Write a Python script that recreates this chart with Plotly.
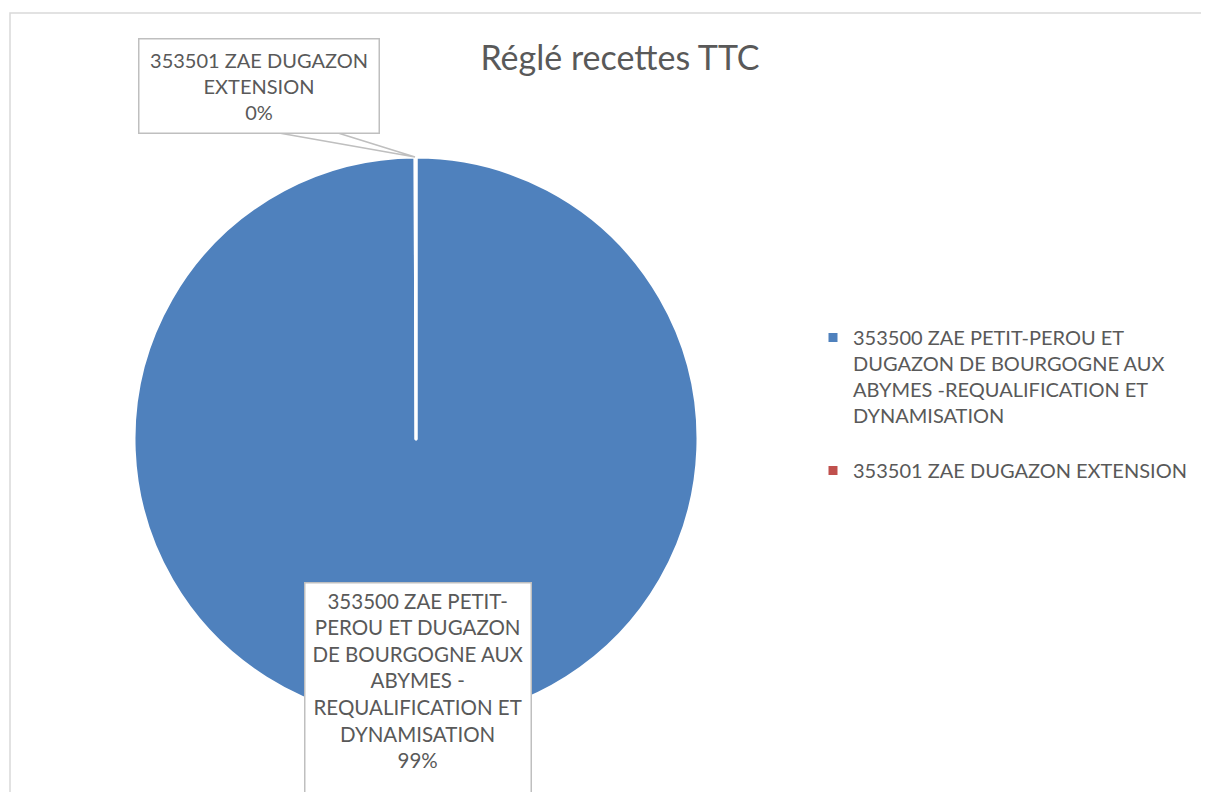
import plotly.graph_objects as go

# page body has an 8px margin: the figure is drawn at window offset (8, 8)
OFF = 8
W, H = 1209 - OFF, 792 - OFF

title_text = "Réglé recettes TTC"
categories = [
    "353500 ZAE PETIT-PEROU ET DUGAZON DE BOURGOGNE AUX ABYMES -REQUALIFICATION ET DYNAMISATION",
    "353501 ZAE DUGAZON EXTENSION",
]
legend_names = [
    "353500 ZAE PETIT-PEROU ET<br>DUGAZON DE BOURGOGNE AUX<br>ABYMES -REQUALIFICATION ET<br>DYNAMISATION<br> ",
    "353501 ZAE DUGAZON EXTENSION",
]
values = [99.95, 0.05]
pct_labels = ["99%", "0%"]
slice_label_lines = [
    ["353500 ZAE PETIT-", "PEROU ET DUGAZON", "DE BOURGOGNE AUX", "ABYMES -", "REQUALIFICATION ET", "DYNAMISATION"],
    ["353501 ZAE DUGAZON", "EXTENSION"],
]
colors = ["#4F81BD", "#C0504D"]

TEXT = "#595959"
FONT = "Lato"


def px(x):
    return (x - OFF) / W


def py(y):
    return (H - (y - OFF)) / H


cx, cy, r = 416, 439, 282

fig = go.Figure(
    go.Pie(
        labels=legend_names,
        values=values,
        customdata=categories,
        sort=False,
        direction="clockwise",
        rotation=0,
        textinfo="none",
        marker=dict(colors=colors, line=dict(color="white", width=3)),
        domain=dict(x=[px(cx - r), px(cx + r)], y=[py(cy + r), py(cy - r)]),
        hovertemplate="%{customdata}<br>%{percent}<extra></extra>",
    )
)

# frame
fig.add_shape(type="rect", xref="paper", yref="paper",
              x0=px(10), y0=-0.05, x1=1.05, y1=py(13),
              line=dict(color="#D9D9D9", width=1.5), fillcolor="rgba(0,0,0,0)", layer="below")

# callout wedge for small slice
fig.add_shape(type="path", xref="paper", yref="paper",
              path=f"M {px(279)},{py(133)} L {px(415)},{py(157)} L {px(338)},{py(133)}",
              line=dict(color="#BFBFBF", width=1.5), fillcolor="white")

# data label boxes
fig.add_annotation(
    xref="paper", yref="paper", x=px(258.5), y=py(38), xanchor="center", yanchor="top",
    text="<br>".join(slice_label_lines[1] + [pct_labels[1]]),
    showarrow=False, align="center", width=235, height=89, borderpad=2,
    bgcolor="white", bordercolor="#BFBFBF", borderwidth=1.5,
    font=dict(family=FONT, size=20, color=TEXT),
)
fig.add_annotation(
    xref="paper", yref="paper", x=px(417.5), y=py(582), xanchor="center", yanchor="top",
    text="<br>".join(slice_label_lines[0] + [pct_labels[0]]),
    showarrow=False, align="center", width=215, height=215, borderpad=5, valign="top",
    bgcolor="white", bordercolor="#BFBFBF", borderwidth=1.5,
    font=dict(family=FONT, size=20.5, color=TEXT),
)

fig.update_layout(
    width=W, height=H, autosize=False,
    margin=dict(l=0, r=0, t=0, b=0),
    paper_bgcolor="white", plot_bgcolor="white",
    title=dict(text=title_text, x=px(620), xanchor="center", y=py(58), yanchor="middle",
               font=dict(family=FONT, size=34, color=TEXT)),
    legend=dict(x=px(813), y=py(318), xanchor="left", yanchor="top", valign="top",
                font=dict(family=FONT, size=20, color=TEXT), itemwidth=30,
                bgcolor="rgba(0,0,0,0)"),
    showlegend=True,
)

fig.write_html("out.html")
